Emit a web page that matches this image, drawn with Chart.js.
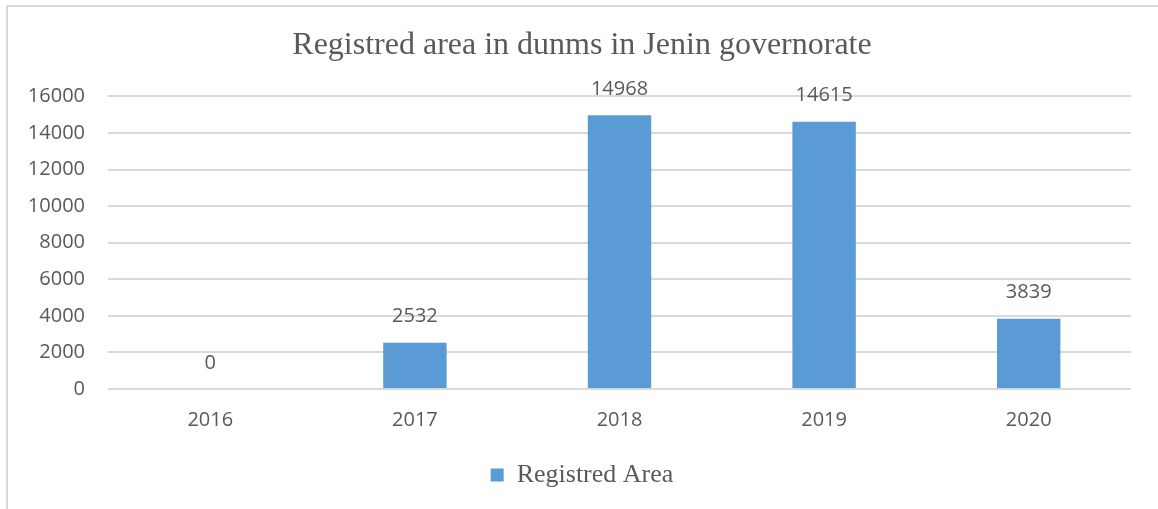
<!DOCTYPE html>
<html>
<head>
<meta charset="utf-8">
<script src="https://cdn.jsdelivr.net/npm/chart.js@4"></script>
<style>
  html, body { margin: 0; padding: 0; background: #fff; }
  #wrap { position: relative; width: 1158px; height: 509px; overflow: hidden; }
  #frame { position: absolute; left: 6px; top: 5px; width: 1200px; height: 600px;
           border-left: 2px solid #d9d9d9; border-top: 2px solid #d9d9d9; }
  canvas { position: absolute; left: 0; top: 0; }
</style>
</head>
<body>
<div id="wrap">
  <div id="frame"></div>
  <canvas id="chart" width="1158" height="509"></canvas>
</div>
<script>
const years = ["2016", "2017", "2018", "2019", "2020"];
const registredArea = [0, 2532, 14968, 14615, 3839];
const yTicks = [0, 2000, 4000, 6000, 8000, 10000, 12000, 14000, 16000];

const grey = "#595959";

// value labels above each bar
const barLabels = {
  id: "barLabels",
  afterDatasetsDraw(chart) {
    const ctx = chart.ctx;
    const meta = chart.getDatasetMeta(0);
    ctx.save();
    ctx.font = "20px 'Open Sans'";
    ctx.fillStyle = grey;
    ctx.textAlign = "center";
    ctx.textBaseline = "middle";
    meta.data.forEach((bar, i) => {
      ctx.fillText(registredArea[i], bar.x, bar.y - 26);
    });
    ctx.restore();
  }
};

const ctx = document.getElementById("chart");
new Chart(ctx, {
  type: "bar",
  data: {
    labels: years,
    datasets: [{
      label: "Registred Area",
      data: registredArea,
      backgroundColor: "#5b9bd5",
      barPercentage: 0.62,
      categoryPercentage: 0.5
    }]
  },
  options: {
    responsive: false,
    animation: false,
    layout: { padding: { left: 6, right: 0, top: 0, bottom: 11 } },
    plugins: {
      title: {
        display: true,
        text: "Registred area in dunms in Jenin governorate",
        color: grey,
        font: { family: "'Liberation Serif'", size: 32, weight: "normal" },
        padding: { top: 26, bottom: 32 }
      },
      legend: {
        position: "bottom",
        labels: {
          color: grey,
          font: { family: "'Liberation Serif'", size: 26 },
          boxWidth: 13,
          boxHeight: 13,
          padding: 6
        }
      },
      tooltip: { enabled: false }
    },
    scales: {
      x: {
        afterFit(scale) { scale.height = 67; },
        grid: { display: false },
        border: { display: false },
        ticks: { color: grey, font: { family: "'Open Sans'", size: 20 }, padding: 11 }
      },
      y: {
        min: 0,
        max: 16000,
        afterFit(scale) { scale.width = 102; },
        afterBuildTicks(scale) { scale.ticks = yTicks.map(v => ({ value: v })); },
        grid: { color: "#d9d9d9", lineWidth: 2, drawTicks: false },
        border: { display: false },
        ticks: {
          color: grey,
          font: { family: "'Open Sans'", size: 20 },
          padding: 23,
          callback: v => String(v)
        }
      },
      // empty right-hand spacer so the title and legend stay centred on the frame
      yRight: {
        position: "right",
        afterFit(scale) { scale.width = 27; },
        grid: { display: false },
        border: { display: false },
        ticks: { display: false }
      }
    }
  },
  plugins: [barLabels]
});
</script>
</body>
</html>
